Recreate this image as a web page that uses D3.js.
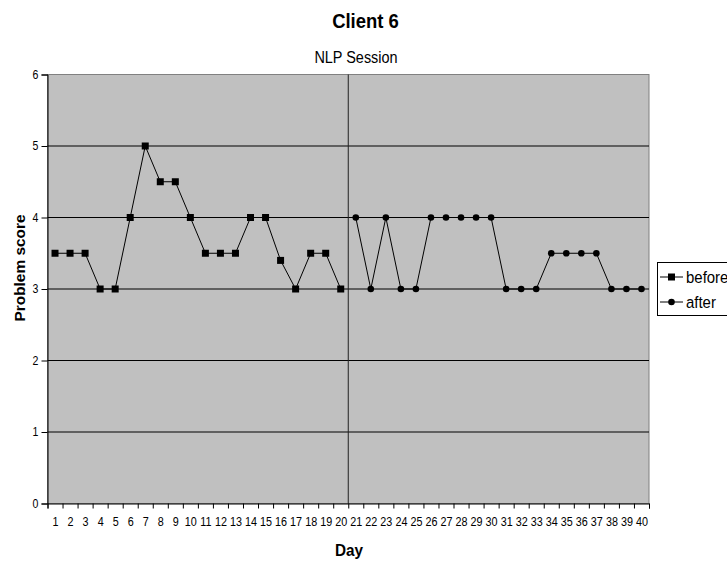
<!DOCTYPE html>
<html>
<head>
<meta charset="utf-8">
<script src="https://cdn.jsdelivr.net/npm/d3@7"></script>
<style>
  html, body { margin: 0; padding: 0; background: #ffffff; }
  svg { display: block; font-family: "Liberation Sans", Arial, sans-serif; }
</style>
</head>
<body>
<svg id="chart" width="727" height="565"></svg>
<script>
// Problem scores per day, before and after the NLP session
const beforeDays = d3.range(1, 21);
const beforeScores = [3.5, 3.5, 3.5, 3, 3, 4, 5, 4.5, 4.5, 4, 3.5, 3.5, 3.5, 4, 4, 3.4, 3, 3.5, 3.5, 3];
const afterDays = d3.range(21, 41);
const afterScores = [4, 3, 4, 3, 3, 4, 4, 4, 4, 4, 3, 3, 3, 3.5, 3.5, 3.5, 3.5, 3, 3, 3];
const dayLabels = d3.range(1, 41);
const scoreTicks = [0, 1, 2, 3, 4, 5, 6];
const sessionBoundary = 20.5;
const seriesNames = ["before", "after"];

const svg = d3.select("#chart");
const plot = { left: 47.5, right: 649, top: 74.5, bottom: 503.5 };

const x = d3.scaleLinear().domain([0.5, 40.5]).range([plot.left, plot.right]);
const y = d3.scaleLinear().domain([0, 6]).range([plot.bottom, plot.top]);

// plot background
svg.append("rect")
  .attr("x", plot.left).attr("y", plot.top)
  .attr("width", plot.right - plot.left).attr("height", plot.bottom - plot.top)
  .attr("fill", "#c0c0c0").attr("stroke", "#808080").attr("stroke-width", 1);

// horizontal gridlines
svg.append("g").selectAll("line")
  .data(scoreTicks.filter(v => v > 0 && v < 6))
  .join("line")
  .attr("x1", plot.left).attr("x2", plot.right)
  .attr("y1", d => y(d)).attr("y2", d => y(d))
  .attr("stroke", "#000").attr("stroke-width", 1);

// session divider
svg.append("line")
  .attr("x1", x(sessionBoundary)).attr("x2", x(sessionBoundary))
  .attr("y1", plot.top).attr("y2", plot.bottom)
  .attr("stroke", "#202020").attr("stroke-width", 1);

// y axis
const yAxis = svg.append("g")
  .attr("transform", `translate(${plot.left},0)`)
  .call(d3.axisLeft(y).tickValues(scoreTicks).tickSize(6).tickPadding(3).tickFormat(d3.format("d")));
yAxis.select(".domain").attr("stroke", "#000");
yAxis.selectAll(".tick line").attr("stroke", "#000");
yAxis.selectAll(".tick text")
  .attr("font-size", 12).attr("fill", "#000")
  .attr("font-family", "Liberation Sans, Arial, sans-serif")
  .attr("transform", "translate(-9,0) scale(0.88,1) translate(9,0)");

// x axis: tick marks on day boundaries
const xTicks = svg.append("g")
  .attr("transform", `translate(0,${plot.bottom})`)
  .call(d3.axisBottom(x).tickValues(d3.range(0.5, 41, 1)).tickSize(5).tickFormat(""));
xTicks.select(".domain").attr("stroke", "#000");
xTicks.selectAll(".tick line").attr("stroke", "#000");

// x axis: day labels centred in each day
const xLabels = svg.append("g")
  .attr("transform", `translate(0,${plot.bottom})`)
  .call(d3.axisBottom(x).tickValues(dayLabels).tickSize(0).tickPadding(14).tickFormat(d3.format("d")));
xLabels.select(".domain").remove();
xLabels.selectAll(".tick text")
  .attr("font-size", 12).attr("fill", "#000")
  .attr("font-family", "Liberation Sans, Arial, sans-serif")
  .attr("transform", "scale(0.9,1)");

// series lines and markers
const line = d3.line().x(d => x(d[0])).y(d => y(d[1]));
const beforePts = beforeDays.map((d, i) => [d, beforeScores[i]]);
const afterPts = afterDays.map((d, i) => [d, afterScores[i]]);

svg.append("path").datum(beforePts).attr("d", line)
  .attr("fill", "none").attr("stroke", "#000").attr("stroke-width", 1);
svg.append("path").datum(afterPts).attr("d", line)
  .attr("fill", "none").attr("stroke", "#000").attr("stroke-width", 1);

const sq = 7;
svg.append("g").selectAll("rect").data(beforePts).join("rect")
  .attr("x", d => x(d[0]) - sq / 2).attr("y", d => y(d[1]) - sq / 2)
  .attr("width", sq).attr("height", sq).attr("fill", "#000");
svg.append("g").selectAll("circle").data(afterPts).join("circle")
  .attr("cx", d => x(d[0])).attr("cy", d => y(d[1])).attr("r", 3.3).attr("fill", "#000");

// titles
function squeezedText(tx, ty, sx, txt, size, weight, anchor) {
  return svg.append("text")
    .attr("transform", `translate(${tx},${ty}) scale(${sx},1)`)
    .attr("text-anchor", anchor || "middle")
    .attr("font-size", size).attr("font-weight", weight || "normal")
    .attr("fill", "#000").text(txt);
}
squeezedText(365.5, 27.5, 0.88, "Client 6", 21, "bold");
squeezedText(356, 62.5, 0.85, "NLP Session", 17, "normal");
squeezedText(349, 556, 0.9, "Day", 17, "bold");

svg.append("text")
  .attr("transform", "translate(25,268) rotate(-90)")
  .attr("text-anchor", "middle")
  .attr("font-size", 15.4).attr("font-weight", "bold")
  .attr("fill", "#000").text("Problem score");

// legend
const legend = svg.append("g");
legend.append("rect")
  .attr("x", 657.5).attr("y", 262.5).attr("width", 80).attr("height", 53)
  .attr("fill", "#fff").attr("stroke", "#000").attr("stroke-width", 1);
const legendY = [277, 302];
seriesNames.forEach((name, i) => {
  const ly = legendY[i];
  legend.append("line").attr("x1", 660).attr("x2", 683).attr("y1", ly).attr("y2", ly)
    .attr("stroke", "#000").attr("stroke-width", 1);
  if (i === 0) {
    legend.append("rect").attr("x", 671.5 - sq / 2).attr("y", ly - sq / 2)
      .attr("width", sq).attr("height", sq).attr("fill", "#000");
  } else {
    legend.append("circle").attr("cx", 671.5).attr("cy", ly).attr("r", 3.3).attr("fill", "#000");
  }
  legend.append("text")
    .attr("transform", `translate(686,${ly + 6}) scale(0.88,1)`)
    .attr("font-size", 17).attr("fill", "#000").text(name);
});
</script>
</body>
</html>
